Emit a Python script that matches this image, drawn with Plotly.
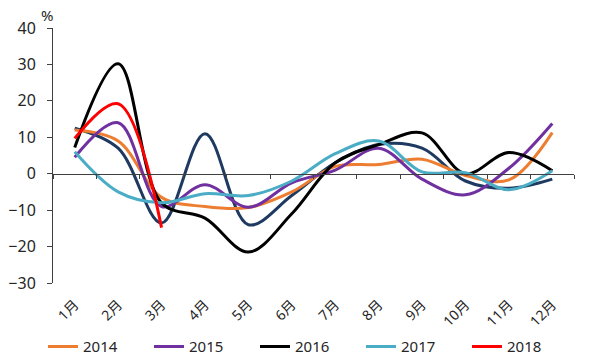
import plotly.graph_objects as go

months = ["1月", "2月", "3月", "4月", "5月", "6月", "7月", "8月", "9月", "10月", "11月", "12月"]
y2013 = [12.5, 7, -13.5, 11, -14, -6, 3, 8, 7, -2, -4, -1.5]
y2014 = [12, 9, -6.5, -9, -9.3, -5, 2, 2.5, 4, -0.5, -1.7, 11.3]
y2015 = [4.5, 14, -9, -3, -9.2, -2.5, 1, 7, -1.5, -5.8, 1.5, 13.8]
y2016 = [7.2, 30.2, -8, -12.2, -21.5, -11, 3, 8, 11.2, 0, 5.8, 0.8]
y2017 = [6, -5, -8, -5.5, -6, -2, 5.5, 9, 0.5, 0.3, -4.4, 0.8]
y2018 = [9.7, 19.2, -14.8]

series = [
    ("2013", y2013, "#1F3A60", False),
    ("2014", y2014, "#ED7D31", True),
    ("2015", y2015, "#7030A0", True),
    ("2016", y2016, "#000000", True),
    ("2017", y2017, "#4BACC6", True),
    ("2018", y2018, "#FF0000", True),
]

fig = go.Figure()
for name, vals, color, show in series:
    fig.add_trace(go.Scatter(
        x=months[:len(vals)], y=vals, name=name, mode="lines",
        line=dict(color=color, width=3, shape="spline", smoothing=1.0),
        showlegend=show,
    ))

# invisible trace to create the zero-line category axis
fig.add_trace(go.Scatter(x=months, y=[None] * 12, xaxis="x2", showlegend=False,
                         hoverinfo="skip", mode="lines"))

font_main = "Noto Sans, Noto Sans CJK SC, sans-serif"
fig.update_layout(
    width=592, height=353,
    margin=dict(l=45, r=26, t=20, b=78, autoexpand=False),
    paper_bgcolor="white", plot_bgcolor="white",
    font=dict(family=font_main, size=14, color="#262626"),
    xaxis=dict(
        type="category", categoryorder="array", categoryarray=months,
        range=[-0.5, 11.5],
        showline=False, showgrid=False, zeroline=False, ticks="",
        tickangle=-45, tickfont=dict(size=14, family=font_main),
        ticklabelstandoff=10,
    ),
    xaxis2=dict(
        type="category", categoryorder="array", categoryarray=months,
        range=[-0.5, 11.5],
        overlaying="x", anchor="free", position=3 / 7, side="bottom",
        showline=True, linecolor="#404040", linewidth=1,
        ticks="outside", ticklen=4, tickcolor="#404040", tickson="boundaries",
        showticklabels=False, showgrid=False, zeroline=False,
    ),
    yaxis=dict(
        range=[-30, 40], dtick=10, showgrid=False, zeroline=False,
        showline=True, linecolor="#404040", linewidth=1,
        ticks="outside", ticklen=5, tickcolor="#404040",
        tickfont=dict(size=16, family=font_main), ticklabelstandoff=8,
    ),
    legend=dict(orientation="h", x=-0.0192, xanchor="left",
                y=-0.25, yanchor="middle",
                font=dict(size=15), tracegroupgap=0, entrywidth=61,
                entrywidthmode="pixels", bgcolor="rgba(0,0,0,0)"),
    annotations=[dict(text="%", xref="paper", yref="paper", x=-0.012, y=1.005,
                      xanchor="center", yanchor="bottom", showarrow=False,
                      font=dict(size=15, family=font_main))],
)

fig.write_html("out.html")
